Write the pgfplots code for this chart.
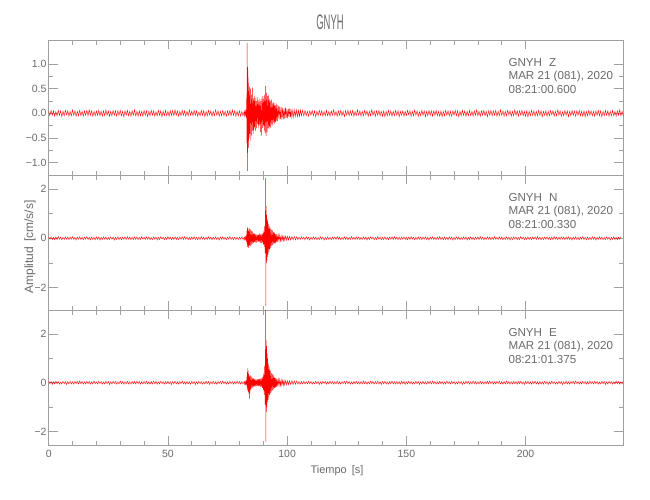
\documentclass[border=0pt]{standalone}
\usepackage{pgfplots}
\pgfplotsset{compat=1.18}
\usepackage{fontspec}
\setmainfont{Liberation Sans}
\definecolor{axgray}{HTML}{A0A0A0}
\definecolor{txtgray}{HTML}{6A6A6A}
\definecolor{sred}{HTML}{FF0000}
\pgfplotsset{seis/.style={
  scale only axis, width=574.6pt, height=135pt,
  xmin=0, xmax=241, anchor=south west,
  axis line style={axgray, line width=0.6pt},
  every tick/.style={axgray, line width=0.6pt},
  major tick length=9pt, minor tick length=4.5pt,
  tick align=inside,
  xtick={0,50,100,150,200}, minor x tick num=4,
  minor y tick num=1,
  ticklabel style={font=\fontsize{10.5}{12}\selectfont, text=txtgray},
  yticklabel style={inner sep=2pt},
  xticklabel style={inner sep=2pt, yshift=-3pt},
  /pgf/number format/assume math mode=true,
  clip=true,
  cycle list={{sred, line width=0.6pt, mark=none}},
}}
\newcommand{\ann}[2]{%
  \node[anchor=base west, font=\fontsize{11.6}{13}\selectfont, text=txtgray] at (rel axis cs:0.7942,0.807) {GNYH\hspace{7pt}#1};
  \node[anchor=base west, font=\fontsize{11.6}{13}\selectfont, text=txtgray] at (rel axis cs:0.7942,0.707) {MAR 21 (081), 2020};
  \node[anchor=base west, font=\fontsize{11.6}{13}\selectfont, text=txtgray] at (rel axis cs:0.7942,0.607) {#2};
}
\begin{document}
\begin{tikzpicture}
\path[use as bounding box] (0pt,0pt) rectangle (650pt,-500pt);
% ---------- Z ----------
\begin{axis}[seis, at={(48.7pt,-175pt)}, ymin=-1.254, ymax=1.49,
  ytick={-1,-0.5,0,0.5,1}, yticklabels={−1.0,−0.5,0.0,0.5,1.0}, xticklabels={}]
\addplot coordinates {
(0,0.04)(0.5,-0.05)(1,0.06)(1.5,-0.04)(2,0.05)(2.5,-0.06)(3,0.03)(3.5,-0.05)(4,0.06)(4.5,-0.04)(5,0.05)(5.5,-0.07)(6,0.04)(6.5,-0.05)(7,0.06)(7.5,-0.03)(8,0.05)(8.5,-0.06)(9,0.04)(9.5,-0.05)(10,0.07)(10.5,-0.04)(11,0.05)(11.5,-0.06)(12,0.04)(12.5,-0.05)(13,0.06)(13.5,-0.05)(14,0.04)(14.5,-0.06)(15,0.05)(15.5,-0.04)(16,0.06)(16.5,-0.05)(17,0.07)(17.5,-0.04)(18,0.05)(18.5,-0.06)(19,0.04)(19.5,-0.05)
(20,0.05)(20.5,-0.04)(21,0.06)(21.5,-0.05)(22,0.04)(22.5,-0.06)(23,0.05)(23.5,-0.05)(24,0.07)(24.5,-0.04)(25,0.05)(25.5,-0.06)(26,0.04)(26.5,-0.05)(27,0.06)(27.5,-0.04)(28,0.05)(28.5,-0.06)(29,0.05)(29.5,-0.04)(30,0.06)(30.5,-0.05)(31,0.04)(31.5,-0.07)(32,0.05)(32.5,-0.04)(33,0.06)(33.5,-0.05)(34,0.04)(34.5,-0.06)(35,0.05)(35.5,-0.04)(36,0.07)(36.5,-0.05)(37,0.04)(37.5,-0.06)(38,0.05)(38.5,-0.05)(39,0.04)(39.5,-0.06)
(40,0.06)(40.5,-0.04)(41,0.05)(41.5,-0.07)(42,0.04)(42.5,-0.05)(43,0.06)(43.5,-0.04)(44,0.05)(44.5,-0.06)(45,0.03)(45.5,-0.05)(46,0.06)(46.5,-0.04)(47,0.05)(47.5,-0.07)(48,0.04)(48.5,-0.05)(49,0.06)(49.5,-0.05)(50,0.04)(50.5,-0.06)(51,0.05)(51.5,-0.04)(52,0.06)(52.5,-0.05)(53,0.07)(53.5,-0.04)(54,0.05)(54.5,-0.06)(55,0.04)(55.5,-0.05)(56,0.06)(56.5,-0.04)(57,0.05)(57.5,-0.06)(58,0.04)(58.5,-0.05)(59,0.07)(59.5,-0.04)
(60,0.04)(60.5,-0.05)(61,0.06)(61.5,-0.04)(62,0.05)(62.5,-0.06)(63,0.03)(63.5,-0.05)(64,0.06)(64.5,-0.04)(65,0.05)(65.5,-0.07)(66,0.04)(66.5,-0.05)(67,0.06)(67.5,-0.03)(68,0.05)(68.5,-0.06)(69,0.04)(69.5,-0.05)(70,0.07)(70.5,-0.04)(71,0.05)(71.5,-0.06)(72,0.04)(72.5,-0.05)(73,0.06)(73.5,-0.05)(74,0.04)(74.5,-0.06)(75,0.05)(75.5,-0.04)(76,0.06)(76.5,-0.05)(77,0.07)(77.5,-0.04)(78,0.05)(78.5,-0.06)(79,0.04)(79.5,-0.05)
(80,0.05)(80.5,-0.06)(81,0.04)(81.5,-0.05)
(82.0,0.04)(82.2,-0.05)(82.4,0.05)(82.6,-0.04)(82.8,0.06)(82.9,-0.08)(83.0,0.3)(83.1,-0.6)(83.2,1.43)(83.3,-1.17)(83.4,0.95)(83.5,-0.8)(83.6,0.88)(83.7,-0.55)(83.8,0.62)(83.9,-0.7)(84.0,0.45)(84.1,-0.5)(84.2,0.55)(84.4,-0.42)(84.6,0.5)(84.8,-0.55)(85.0,0.38)(85.2,-0.45)(85.4,0.52)(85.6,-0.35)(85.8,0.3)(86.0,-0.42)(86.2,0.35)(86.4,-0.28)(86.6,0.32)(86.8,-0.35)(87.0,0.25)(87.2,-0.3)(87.4,0.33)(87.6,-0.22)(87.8,0.28)(88.0,-0.3)(88.2,0.22)(88.4,-0.25)(88.6,0.3)(88.8,-0.38)(89.0,0.25)(89.2,-0.45)(89.4,0.3)(89.6,-0.3)(89.8,0.35)(90.0,-0.25)(90.2,0.3)(90.4,-0.35)(90.6,0.38)(90.8,-0.4)(91.0,0.55)(91.2,-0.46)(91.4,0.42)(91.6,-0.38)(91.8,0.35)(92.0,-0.3)(92.2,0.38)(92.4,-0.32)(92.6,0.3)(92.8,-0.28)(93.0,0.25)(93.2,-0.3)(93.4,0.28)(93.6,-0.22)(93.8,0.2)(94.0,-0.25)(94.2,0.22)(94.4,-0.18)(94.6,0.2)(94.8,-0.22)(95.0,0.16)(95.2,-0.18)(95.4,0.2)(95.6,-0.15)(95.8,0.17)(96.0,-0.16)(96.3,0.15)(96.6,-0.13)(96.9,0.14)(97.2,-0.12)(97.5,0.13)(97.8,-0.14)(98.1,0.11)(98.4,-0.12)(98.7,0.1)(99.0,-0.11)(99.3,0.12)(99.6,-0.1)(99.9,0.09)(100.2,-0.1)(100.5,0.09)(100.8,-0.08)(101.1,0.1)(101.4,-0.08)(101.7,0.08)(102.0,-0.09)(102.4,0.07)(102.8,-0.08)(103.2,0.07)(103.6,-0.06)(104.0,0.07)(104.4,-0.07)(104.8,0.06)(105.2,-0.06)(105.6,0.07)(106.0,-0.05)(106.5,0.06)(107.0,-0.05)(107.5,0.06)
(108,-0.05)(108.5,0.04)(109,-0.06)(109.5,0.05)(110,-0.04)(110.5,0.06)(111,-0.05)(111.5,0.05)(112,-0.07)(112.5,0.04)(113,-0.05)(113.5,0.06)(114,-0.04)(114.5,0.05)(115,-0.06)(115.5,0.04)(116,-0.05)(116.5,0.06)(117,-0.05)(117.5,0.04)(118,-0.06)(118.5,0.05)(119,-0.04)(119.5,0.07)(120,-0.05)(120.5,0.04)(121,-0.06)(121.5,0.05)(122,-0.04)(122.5,0.06)(123,-0.05)(123.5,0.04)(124,-0.07)(124.5,0.05)(125,-0.04)(125.5,0.06)(126,-0.05)(126.5,0.05)(127,-0.04)(127.5,0.06)
(128,-0.06)(128.5,0.04)(129,-0.05)(129.5,0.07)(130,-0.04)(130.5,0.05)(131,-0.06)(131.5,0.04)(132,-0.05)(132.5,0.06)(133,-0.03)(133.5,0.05)(134,-0.06)(134.5,0.04)(135,-0.05)(135.5,0.07)(136,-0.04)(136.5,0.05)(137,-0.06)(137.5,0.05)(138,-0.04)(138.5,0.06)(139,-0.05)(139.5,0.04)(140,-0.06)(140.5,0.05)(141,-0.07)(141.5,0.04)(142,-0.05)(142.5,0.06)(143,-0.04)(143.5,0.05)(144,-0.06)(144.5,0.04)(145,-0.05)(145.5,0.06)(146,-0.04)(146.5,0.05)(147,-0.07)(147.5,0.04)
(148,-0.04)(148.5,0.05)(149,-0.06)(149.5,0.04)(150,-0.05)(150.5,0.06)(151,-0.03)(151.5,0.05)(152,-0.06)(152.5,0.04)(153,-0.05)(153.5,0.07)(154,-0.04)(154.5,0.05)(155,-0.06)(155.5,0.03)(156,-0.05)(156.5,0.06)(157,-0.04)(157.5,0.05)(158,-0.07)(158.5,0.04)(159,-0.05)(159.5,0.06)(160,-0.04)(160.5,0.05)(161,-0.06)(161.5,0.05)(162,-0.04)(162.5,0.06)(163,-0.05)(163.5,0.04)(164,-0.06)(164.5,0.05)(165,-0.07)(165.5,0.04)(166,-0.05)(166.5,0.06)(167,-0.04)(167.5,0.05)
(168,-0.05)(168.5,0.04)(169,-0.06)(169.5,0.05)(170,-0.04)(170.5,0.06)(171,-0.05)(171.5,0.05)(172,-0.07)(172.5,0.04)(173,-0.05)(173.5,0.06)(174,-0.04)(174.5,0.05)(175,-0.06)(175.5,0.04)(176,-0.05)(176.5,0.06)(177,-0.05)(177.5,0.04)(178,-0.06)(178.5,0.05)(179,-0.04)(179.5,0.07)(180,-0.05)(180.5,0.04)(181,-0.06)(181.5,0.05)(182,-0.04)(182.5,0.06)(183,-0.05)(183.5,0.04)(184,-0.07)(184.5,0.05)(185,-0.04)(185.5,0.06)(186,-0.05)(186.5,0.05)(187,-0.04)(187.5,0.06)
(188,-0.06)(188.5,0.04)(189,-0.05)(189.5,0.07)(190,-0.04)(190.5,0.05)(191,-0.06)(191.5,0.04)(192,-0.05)(192.5,0.06)(193,-0.03)(193.5,0.05)(194,-0.06)(194.5,0.04)(195,-0.05)(195.5,0.07)(196,-0.04)(196.5,0.05)(197,-0.06)(197.5,0.05)(198,-0.04)(198.5,0.06)(199,-0.05)(199.5,0.04)(200,-0.06)(200.5,0.05)(201,-0.07)(201.5,0.04)(202,-0.05)(202.5,0.06)(203,-0.04)(203.5,0.05)(204,-0.06)(204.5,0.04)(205,-0.05)(205.5,0.06)(206,-0.04)(206.5,0.05)(207,-0.07)(207.5,0.04)
(208,-0.04)(208.5,0.05)(209,-0.06)(209.5,0.04)(210,-0.05)(210.5,0.06)(211,-0.03)(211.5,0.05)(212,-0.06)(212.5,0.04)(213,-0.05)(213.5,0.07)(214,-0.04)(214.5,0.05)(215,-0.06)(215.5,0.03)(216,-0.05)(216.5,0.06)(217,-0.04)(217.5,0.05)(218,-0.07)(218.5,0.04)(219,-0.05)(219.5,0.06)(220,-0.04)(220.5,0.05)(221,-0.06)(221.5,0.05)(222,-0.04)(222.5,0.06)(223,-0.05)(223.5,0.04)(224,-0.06)(224.5,0.05)(225,-0.07)(225.5,0.04)(226,-0.05)(226.5,0.06)(227,-0.04)(227.5,0.05)
(228,-0.05)(228.5,0.04)(229,-0.06)(229.5,0.05)(230,-0.04)(230.5,0.06)(231,-0.05)(231.5,0.05)(232,-0.07)(232.5,0.04)(233,-0.05)(233.5,0.06)(234,-0.04)(234.5,0.05)(235,-0.06)(235.5,0.04)(236,-0.05)(236.5,0.06)(237,-0.05)(237.5,0.04)(238,-0.06)(238.5,0.05)(239,-0.04)(239.5,0.07)(240,-0.05)(240.5,0.04)(241,-0.06)
};
\ann{Z}{08:21:00.600}
\end{axis}
% ---------- N ----------
\begin{axis}[seis, at={(48.7pt,-310pt)}, ymin=-2.9, ymax=2.56,
  ytick={-2,0,2}, yticklabels={−2,0,2}, xticklabels={}]
\addplot coordinates {
(0,0.05)(0.5,-0.04)(1,0.06)(1.5,-0.05)(2,0.04)(2.5,-0.06)(3,0.05)(3.5,-0.05)(4,0.07)(4.5,-0.04)(5,0.05)(5.5,-0.06)(6,0.04)(6.5,-0.05)(7,0.06)(7.5,-0.04)(8,0.05)(8.5,-0.06)(9,0.05)(9.5,-0.04)(10,0.06)(10.5,-0.05)(11,0.04)(11.5,-0.07)(12,0.05)(12.5,-0.04)(13,0.06)(13.5,-0.05)(14,0.04)(14.5,-0.06)(15,0.05)(15.5,-0.04)(16,0.07)(16.5,-0.05)(17,0.04)(17.5,-0.06)(18,0.05)(18.5,-0.05)(19,0.04)(19.5,-0.06)
(20,0.06)(20.5,-0.04)(21,0.05)(21.5,-0.07)(22,0.04)(22.5,-0.05)(23,0.06)(23.5,-0.04)(24,0.05)(24.5,-0.06)(25,0.03)(25.5,-0.05)(26,0.06)(26.5,-0.04)(27,0.05)(27.5,-0.07)(28,0.04)(28.5,-0.05)(29,0.06)(29.5,-0.05)(30,0.04)(30.5,-0.06)(31,0.05)(31.5,-0.04)(32,0.06)(32.5,-0.05)(33,0.07)(33.5,-0.04)(34,0.05)(34.5,-0.06)(35,0.04)(35.5,-0.05)(36,0.06)(36.5,-0.04)(37,0.05)(37.5,-0.06)(38,0.04)(38.5,-0.05)(39,0.07)(39.5,-0.04)
(40,0.04)(40.5,-0.05)(41,0.06)(41.5,-0.04)(42,0.05)(42.5,-0.06)(43,0.03)(43.5,-0.05)(44,0.06)(44.5,-0.04)(45,0.05)(45.5,-0.07)(46,0.04)(46.5,-0.05)(47,0.06)(47.5,-0.03)(48,0.05)(48.5,-0.06)(49,0.04)(49.5,-0.05)(50,0.07)(50.5,-0.04)(51,0.05)(51.5,-0.06)(52,0.04)(52.5,-0.05)(53,0.06)(53.5,-0.05)(54,0.04)(54.5,-0.06)(55,0.05)(55.5,-0.04)(56,0.06)(56.5,-0.05)(57,0.07)(57.5,-0.04)(58,0.05)(58.5,-0.06)(59,0.04)(59.5,-0.05)
(60,0.05)(60.5,-0.04)(61,0.06)(61.5,-0.05)(62,0.04)(62.5,-0.06)(63,0.05)(63.5,-0.05)(64,0.07)(64.5,-0.04)(65,0.05)(65.5,-0.06)(66,0.04)(66.5,-0.05)(67,0.06)(67.5,-0.04)(68,0.05)(68.5,-0.06)(69,0.05)(69.5,-0.04)(70,0.06)(70.5,-0.05)(71,0.04)(71.5,-0.07)(72,0.05)(72.5,-0.04)(73,0.06)(73.5,-0.05)(74,0.04)(74.5,-0.06)(75,0.05)(75.5,-0.04)(76,0.07)(76.5,-0.05)(77,0.04)(77.5,-0.06)(78,0.05)(78.5,-0.05)(79,0.04)(79.5,-0.06)
(80,0.05)(80.5,-0.04)(81,0.06)(81.5,-0.05)
(82.0,0.05)(82.2,-0.06)(82.4,0.05)(82.6,-0.05)(82.8,0.07)(83.0,-0.15)(83.1,0.3)(83.2,-0.25)(83.3,0.4)(83.4,-0.35)(83.5,0.47)(83.6,-0.3)(83.7,0.35)(83.8,-0.4)(83.9,0.3)(84.0,-0.38)(84.2,0.4)(84.4,-0.3)(84.6,0.35)(84.8,-0.33)(85.0,0.3)(85.2,-0.25)(85.4,0.28)(85.6,-0.22)(85.8,0.2)(86.0,-0.18)(86.2,0.2)(86.4,-0.15)(86.6,0.18)(86.8,-0.16)(87.0,0.15)(87.2,-0.17)(87.4,0.14)(87.6,-0.13)(87.8,0.15)(88.0,-0.14)(88.2,0.16)(88.4,-0.15)(88.6,0.2)(88.8,-0.18)(89.0,0.15)(89.2,-0.2)(89.4,0.18)(89.6,-0.15)(89.8,0.2)(90.0,-0.25)(90.2,0.3)(90.4,-0.35)(90.6,0.5)(90.8,-0.6)(90.9,1.0)(91.0,2.44)(91.1,-2.74)(91.2,1.3)(91.3,-1.0)(91.4,0.95)(91.5,-0.9)(91.6,0.8)(91.7,-0.75)(91.8,0.7)(92.0,-0.65)(92.2,0.6)(92.4,-0.55)(92.6,0.5)(92.8,-0.45)(93.0,0.4)(93.2,-0.38)(93.4,0.35)(93.6,-0.3)(93.8,0.32)(94.0,-0.28)(94.2,0.25)(94.4,-0.22)(94.6,0.25)(94.8,-0.2)(95.0,0.18)(95.2,-0.2)(95.4,0.17)(95.6,-0.15)(95.8,0.16)(96.0,-0.14)(96.3,0.13)(96.6,-0.12)(96.9,0.13)(97.2,-0.11)(97.5,0.1)(97.8,-0.11)(98.1,0.09)(98.4,-0.1)(98.7,0.09)(99.0,-0.08)(99.4,0.09)(99.8,-0.08)(100.2,0.08)(100.6,-0.07)(101.0,0.08)(101.5,-0.07)(102.0,0.07)(102.5,-0.06)(103.0,0.07)(103.5,-0.06)(104.0,0.06)(104.5,-0.06)(105,0.05)(105.5,-0.05)(106,0.06)(106.5,-0.04)(107,0.05)(107.5,-0.06)
(108,0.06)(108.5,-0.04)(109,0.05)(109.5,-0.07)(110,0.04)(110.5,-0.05)(111,0.06)(111.5,-0.04)(112,0.05)(112.5,-0.06)(113,0.03)(113.5,-0.05)(114,0.06)(114.5,-0.04)(115,0.05)(115.5,-0.07)(116,0.04)(116.5,-0.05)(117,0.06)(117.5,-0.05)(118,0.04)(118.5,-0.06)(119,0.05)(119.5,-0.04)(120,0.06)(120.5,-0.05)(121,0.07)(121.5,-0.04)(122,0.05)(122.5,-0.06)(123,0.04)(123.5,-0.05)(124,0.06)(124.5,-0.04)(125,0.05)(125.5,-0.06)(126,0.04)(126.5,-0.05)(127,0.07)(127.5,-0.04)
(128,0.04)(128.5,-0.05)(129,0.06)(129.5,-0.04)(130,0.05)(130.5,-0.06)(131,0.03)(131.5,-0.05)(132,0.06)(132.5,-0.04)(133,0.05)(133.5,-0.07)(134,0.04)(134.5,-0.05)(135,0.06)(135.5,-0.03)(136,0.05)(136.5,-0.06)(137,0.04)(137.5,-0.05)(138,0.07)(138.5,-0.04)(139,0.05)(139.5,-0.06)(140,0.04)(140.5,-0.05)(141,0.06)(141.5,-0.05)(142,0.04)(142.5,-0.06)(143,0.05)(143.5,-0.04)(144,0.06)(144.5,-0.05)(145,0.07)(145.5,-0.04)(146,0.05)(146.5,-0.06)(147,0.04)(147.5,-0.05)
(148,0.05)(148.5,-0.04)(149,0.06)(149.5,-0.05)(150,0.04)(150.5,-0.06)(151,0.05)(151.5,-0.05)(152,0.07)(152.5,-0.04)(153,0.05)(153.5,-0.06)(154,0.04)(154.5,-0.05)(155,0.06)(155.5,-0.04)(156,0.05)(156.5,-0.06)(157,0.05)(157.5,-0.04)(158,0.06)(158.5,-0.05)(159,0.04)(159.5,-0.07)(160,0.05)(160.5,-0.04)(161,0.06)(161.5,-0.05)(162,0.04)(162.5,-0.06)(163,0.05)(163.5,-0.04)(164,0.07)(164.5,-0.05)(165,0.04)(165.5,-0.06)(166,0.05)(166.5,-0.05)(167,0.04)(167.5,-0.06)
(168,0.06)(168.5,-0.04)(169,0.05)(169.5,-0.07)(170,0.04)(170.5,-0.05)(171,0.06)(171.5,-0.04)(172,0.05)(172.5,-0.06)(173,0.03)(173.5,-0.05)(174,0.06)(174.5,-0.04)(175,0.05)(175.5,-0.07)(176,0.04)(176.5,-0.05)(177,0.06)(177.5,-0.05)(178,0.04)(178.5,-0.06)(179,0.05)(179.5,-0.04)(180,0.06)(180.5,-0.05)(181,0.07)(181.5,-0.04)(182,0.05)(182.5,-0.06)(183,0.04)(183.5,-0.05)(184,0.06)(184.5,-0.04)(185,0.05)(185.5,-0.06)(186,0.04)(186.5,-0.05)(187,0.07)(187.5,-0.04)
(188,0.04)(188.5,-0.05)(189,0.06)(189.5,-0.04)(190,0.05)(190.5,-0.06)(191,0.03)(191.5,-0.05)(192,0.06)(192.5,-0.04)(193,0.05)(193.5,-0.07)(194,0.04)(194.5,-0.05)(195,0.06)(195.5,-0.03)(196,0.05)(196.5,-0.06)(197,0.04)(197.5,-0.05)(198,0.07)(198.5,-0.04)(199,0.05)(199.5,-0.06)(200,0.04)(200.5,-0.05)(201,0.06)(201.5,-0.05)(202,0.04)(202.5,-0.06)(203,0.05)(203.5,-0.04)(204,0.06)(204.5,-0.05)(205,0.07)(205.5,-0.04)(206,0.05)(206.5,-0.06)(207,0.04)(207.5,-0.05)
(208,0.05)(208.5,-0.04)(209,0.06)(209.5,-0.05)(210,0.04)(210.5,-0.06)(211,0.05)(211.5,-0.05)(212,0.07)(212.5,-0.04)(213,0.05)(213.5,-0.06)(214,0.04)(214.5,-0.05)(215,0.06)(215.5,-0.04)(216,0.05)(216.5,-0.06)(217,0.05)(217.5,-0.04)(218,0.06)(218.5,-0.05)(219,0.04)(219.5,-0.07)(220,0.05)(220.5,-0.04)(221,0.06)(221.5,-0.05)(222,0.04)(222.5,-0.06)(223,0.05)(223.5,-0.04)(224,0.07)(224.5,-0.05)(225,0.04)(225.5,-0.06)(226,0.05)(226.5,-0.05)(227,0.04)(227.5,-0.06)
(228,0.06)(228.5,-0.04)(229,0.05)(229.5,-0.07)(230,0.04)(230.5,-0.05)(231,0.06)(231.5,-0.04)(232,0.05)(232.5,-0.06)(233,0.03)(233.5,-0.05)(234,0.06)(234.5,-0.04)(235,0.05)(235.5,-0.07)(236,0.04)(236.5,-0.05)(237,0.06)(237.5,-0.05)(238,0.04)(238.5,-0.06)(239,0.05)(239.5,-0.04)(240,0.06)
};
\ann{N}{08:21:00.330}
\end{axis}
% ---------- E ----------
\begin{axis}[seis, at={(48.7pt,-445pt)}, ymin=-2.56, ymax=2.99,
  ytick={-2,0,2}, yticklabels={−2,0,2}, xticklabels={0,50,100,150,200}]
\addplot coordinates {
(0,0.06)(0.5,-0.04)(1,0.05)(1.5,-0.07)(2,0.04)(2.5,-0.05)(3,0.06)(3.5,-0.04)(4,0.05)(4.5,-0.06)(5,0.03)(5.5,-0.05)(6,0.06)(6.5,-0.04)(7,0.05)(7.5,-0.07)(8,0.04)(8.5,-0.05)(9,0.06)(9.5,-0.05)(10,0.04)(10.5,-0.06)(11,0.05)(11.5,-0.04)(12,0.06)(12.5,-0.05)(13,0.07)(13.5,-0.04)(14,0.05)(14.5,-0.06)(15,0.04)(15.5,-0.05)(16,0.06)(16.5,-0.04)(17,0.05)(17.5,-0.06)(18,0.04)(18.5,-0.05)(19,0.07)(19.5,-0.04)
(20,0.04)(20.5,-0.05)(21,0.06)(21.5,-0.04)(22,0.05)(22.5,-0.06)(23,0.03)(23.5,-0.05)(24,0.06)(24.5,-0.04)(25,0.05)(25.5,-0.07)(26,0.04)(26.5,-0.05)(27,0.06)(27.5,-0.03)(28,0.05)(28.5,-0.06)(29,0.04)(29.5,-0.05)(30,0.07)(30.5,-0.04)(31,0.05)(31.5,-0.06)(32,0.04)(32.5,-0.05)(33,0.06)(33.5,-0.05)(34,0.04)(34.5,-0.06)(35,0.05)(35.5,-0.04)(36,0.06)(36.5,-0.05)(37,0.07)(37.5,-0.04)(38,0.05)(38.5,-0.06)(39,0.04)(39.5,-0.05)
(40,0.05)(40.5,-0.04)(41,0.06)(41.5,-0.05)(42,0.04)(42.5,-0.06)(43,0.05)(43.5,-0.05)(44,0.07)(44.5,-0.04)(45,0.05)(45.5,-0.06)(46,0.04)(46.5,-0.05)(47,0.06)(47.5,-0.04)(48,0.05)(48.5,-0.06)(49,0.05)(49.5,-0.04)(50,0.06)(50.5,-0.05)(51,0.04)(51.5,-0.07)(52,0.05)(52.5,-0.04)(53,0.06)(53.5,-0.05)(54,0.04)(54.5,-0.06)(55,0.05)(55.5,-0.04)(56,0.07)(56.5,-0.05)(57,0.04)(57.5,-0.06)(58,0.05)(58.5,-0.05)(59,0.04)(59.5,-0.06)
(60,0.06)(60.5,-0.04)(61,0.05)(61.5,-0.07)(62,0.04)(62.5,-0.05)(63,0.06)(63.5,-0.04)(64,0.05)(64.5,-0.06)(65,0.03)(65.5,-0.05)(66,0.06)(66.5,-0.04)(67,0.05)(67.5,-0.07)(68,0.04)(68.5,-0.05)(69,0.06)(69.5,-0.05)(70,0.04)(70.5,-0.06)(71,0.05)(71.5,-0.04)(72,0.06)(72.5,-0.05)(73,0.07)(73.5,-0.04)(74,0.05)(74.5,-0.06)(75,0.04)(75.5,-0.05)(76,0.06)(76.5,-0.04)(77,0.05)(77.5,-0.06)(78,0.04)(78.5,-0.05)(79,0.07)(79.5,-0.04)
(80,0.05)(80.5,-0.06)(81,0.04)(81.5,-0.05)
(82.0,0.05)(82.2,-0.06)(82.4,0.05)(82.6,-0.07)(82.8,0.06)(83.0,-0.1)(83.1,0.25)(83.2,-0.2)(83.3,0.45)(83.4,-0.3)(83.5,0.6)(83.6,-0.35)(83.7,0.5)(83.8,-0.4)(83.9,0.35)(84.0,-0.5)(84.1,0.3)(84.2,-0.67)(84.3,0.25)(84.4,-0.45)(84.6,0.3)(84.8,-0.3)(85.0,0.25)(85.2,-0.22)(85.4,0.2)(85.6,-0.2)(85.8,0.18)(86.0,-0.16)(86.2,0.17)(86.4,-0.15)(86.6,0.14)(86.8,-0.15)(87.0,0.13)(87.2,-0.14)(87.4,0.15)(87.6,-0.13)(87.8,0.14)(88.0,-0.15)(88.2,0.16)(88.4,-0.14)(88.6,0.15)(88.8,-0.17)(89.0,0.18)(89.2,-0.16)(89.4,0.2)(89.6,-0.22)(89.8,0.25)(90.0,-0.3)(90.2,0.4)(90.4,-0.5)(90.6,0.7)(90.8,-0.9)(90.9,1.2)(91.0,3.2)(91.1,-2.42)(91.2,1.75)(91.3,-1.2)(91.4,1.5)(91.5,-1.0)(91.6,1.2)(91.7,-0.8)(91.8,1.0)(92.0,-0.7)(92.2,0.8)(92.4,-0.6)(92.6,0.65)(92.8,-0.5)(93.0,0.5)(93.2,-0.42)(93.4,0.4)(93.6,-0.35)(93.8,0.35)(94.0,-0.3)(94.2,0.3)(94.4,-0.26)(94.6,0.25)(94.8,-0.22)(95.0,0.2)(95.2,-0.2)(95.4,0.18)(95.6,-0.17)(95.8,0.16)(96.0,-0.15)(96.3,0.14)(96.6,-0.13)(96.9,0.13)(97.2,-0.12)(97.5,0.11)(97.8,-0.11)(98.1,0.1)(98.4,-0.1)(98.7,0.1)(99.0,-0.09)(99.4,0.09)(99.8,-0.09)(100.2,0.08)(100.6,-0.08)(101.0,0.08)(101.5,-0.07)(102.0,0.08)(102.5,-0.07)(103.0,0.07)(103.5,-0.06)(104.0,0.07)(104.5,-0.06)(105,0.05)(105.5,-0.06)(106,0.05)(106.5,-0.05)(107,0.06)(107.5,-0.05)
(108,0.04)(108.5,-0.05)(109,0.06)(109.5,-0.04)(110,0.05)(110.5,-0.06)(111,0.03)(111.5,-0.05)(112,0.06)(112.5,-0.04)(113,0.05)(113.5,-0.07)(114,0.04)(114.5,-0.05)(115,0.06)(115.5,-0.03)(116,0.05)(116.5,-0.06)(117,0.04)(117.5,-0.05)(118,0.07)(118.5,-0.04)(119,0.05)(119.5,-0.06)(120,0.04)(120.5,-0.05)(121,0.06)(121.5,-0.05)(122,0.04)(122.5,-0.06)(123,0.05)(123.5,-0.04)(124,0.06)(124.5,-0.05)(125,0.07)(125.5,-0.04)(126,0.05)(126.5,-0.06)(127,0.04)(127.5,-0.05)
(128,0.05)(128.5,-0.04)(129,0.06)(129.5,-0.05)(130,0.04)(130.5,-0.06)(131,0.05)(131.5,-0.05)(132,0.07)(132.5,-0.04)(133,0.05)(133.5,-0.06)(134,0.04)(134.5,-0.05)(135,0.06)(135.5,-0.04)(136,0.05)(136.5,-0.06)(137,0.05)(137.5,-0.04)(138,0.06)(138.5,-0.05)(139,0.04)(139.5,-0.07)(140,0.05)(140.5,-0.04)(141,0.06)(141.5,-0.05)(142,0.04)(142.5,-0.06)(143,0.05)(143.5,-0.04)(144,0.07)(144.5,-0.05)(145,0.04)(145.5,-0.06)(146,0.05)(146.5,-0.05)(147,0.04)(147.5,-0.06)
(148,0.06)(148.5,-0.04)(149,0.05)(149.5,-0.07)(150,0.04)(150.5,-0.05)(151,0.06)(151.5,-0.04)(152,0.05)(152.5,-0.06)(153,0.03)(153.5,-0.05)(154,0.06)(154.5,-0.04)(155,0.05)(155.5,-0.07)(156,0.04)(156.5,-0.05)(157,0.06)(157.5,-0.05)(158,0.04)(158.5,-0.06)(159,0.05)(159.5,-0.04)(160,0.06)(160.5,-0.05)(161,0.07)(161.5,-0.04)(162,0.05)(162.5,-0.06)(163,0.04)(163.5,-0.05)(164,0.06)(164.5,-0.04)(165,0.05)(165.5,-0.06)(166,0.04)(166.5,-0.05)(167,0.07)(167.5,-0.04)
(168,0.04)(168.5,-0.05)(169,0.06)(169.5,-0.04)(170,0.05)(170.5,-0.06)(171,0.03)(171.5,-0.05)(172,0.06)(172.5,-0.04)(173,0.05)(173.5,-0.07)(174,0.04)(174.5,-0.05)(175,0.06)(175.5,-0.03)(176,0.05)(176.5,-0.06)(177,0.04)(177.5,-0.05)(178,0.07)(178.5,-0.04)(179,0.05)(179.5,-0.06)(180,0.04)(180.5,-0.05)(181,0.06)(181.5,-0.05)(182,0.04)(182.5,-0.06)(183,0.05)(183.5,-0.04)(184,0.06)(184.5,-0.05)(185,0.07)(185.5,-0.04)(186,0.05)(186.5,-0.06)(187,0.04)(187.5,-0.05)
(188,0.05)(188.5,-0.04)(189,0.06)(189.5,-0.05)(190,0.04)(190.5,-0.06)(191,0.05)(191.5,-0.05)(192,0.07)(192.5,-0.04)(193,0.05)(193.5,-0.06)(194,0.04)(194.5,-0.05)(195,0.06)(195.5,-0.04)(196,0.05)(196.5,-0.06)(197,0.05)(197.5,-0.04)(198,0.06)(198.5,-0.05)(199,0.04)(199.5,-0.07)(200,0.05)(200.5,-0.04)(201,0.06)(201.5,-0.05)(202,0.04)(202.5,-0.06)(203,0.05)(203.5,-0.04)(204,0.07)(204.5,-0.05)(205,0.04)(205.5,-0.06)(206,0.05)(206.5,-0.05)(207,0.04)(207.5,-0.06)
(208,0.06)(208.5,-0.04)(209,0.05)(209.5,-0.07)(210,0.04)(210.5,-0.05)(211,0.06)(211.5,-0.04)(212,0.05)(212.5,-0.06)(213,0.03)(213.5,-0.05)(214,0.06)(214.5,-0.04)(215,0.05)(215.5,-0.07)(216,0.04)(216.5,-0.05)(217,0.06)(217.5,-0.05)(218,0.04)(218.5,-0.06)(219,0.05)(219.5,-0.04)(220,0.06)(220.5,-0.05)(221,0.07)(221.5,-0.04)(222,0.05)(222.5,-0.06)(223,0.04)(223.5,-0.05)(224,0.06)(224.5,-0.04)(225,0.05)(225.5,-0.06)(226,0.04)(226.5,-0.05)(227,0.07)(227.5,-0.04)
(228,0.04)(228.5,-0.05)(229,0.06)(229.5,-0.04)(230,0.05)(230.5,-0.06)(231,0.03)(231.5,-0.05)(232,0.06)(232.5,-0.04)(233,0.05)(233.5,-0.07)(234,0.04)(234.5,-0.05)(235,0.06)(235.5,-0.03)(236,0.05)(236.5,-0.06)(237,0.04)(237.5,-0.05)(238,0.07)(238.5,-0.04)(239,0.05)(239.5,-0.06)(240,0.04)(240.5,-0.05)(241,0.06)
};
\ann{E}{08:21:01.375}
\end{axis}
% ---------- titles ----------
\node[text=txtgray] at (330pt,-22.5pt) {\scalebox{0.45}[1]{\fontsize{21}{21}\selectfont GNYH}};
\node[text=txtgray, rotate=90, font=\fontsize{12}{14}\selectfont] at (30pt,-247pt) {Amplitud\hspace{5pt}[cm/s/s]};
\node[text=txtgray, font=\fontsize{11}{13}\selectfont] at (337pt,-471pt) {Tiempo\hspace{5pt}[s]};
\end{tikzpicture}
\end{document}
